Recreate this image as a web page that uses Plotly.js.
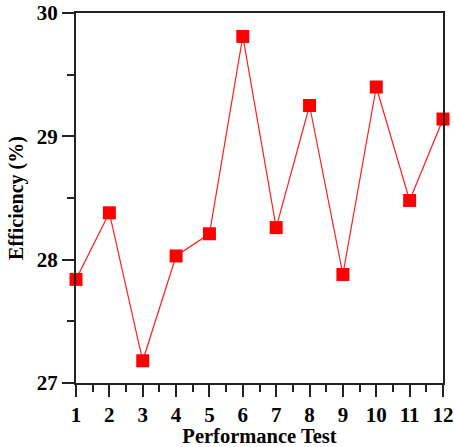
<!DOCTYPE html>
<html>
<head>
<meta charset="utf-8">
<script src="https://cdn.plot.ly/plotly-3.0.1.min.js"></script>
<style>html,body{margin:0;padding:0;background:#fff;}#chart{width:454px;height:447px;}</style>
</head>
<body>
<div id="chart"></div>
<script>
const tests = [1, 2, 3, 4, 5, 6, 7, 8, 9, 10, 11, 12];
const efficiency = [27.84, 28.38, 27.18, 28.03, 28.21, 29.81, 28.26, 29.25, 27.88, 29.40, 28.48, 29.14];
const xTitle = 'Performance Test';
const yTitle = 'Efficiency (%)';

const font = 'Liberation Serif, Times New Roman, serif';
const axisCommon = {
  showline: true, mirror: true, linecolor: '#222', linewidth: 2,
  showgrid: false, zeroline: false,
  ticks: 'outside', ticklen: 12, tickwidth: 2, tickcolor: '#222',
  tickfont: {family: font, size: 21, color: '#000', weight: 'bold'},
  minor: {ticks: 'outside', ticklen: 7, tickwidth: 2, tickcolor: '#222', dtick: 0.5, showgrid: false}
};

Plotly.newPlot('chart', [{
  x: tests, y: efficiency, type: 'scatter', mode: 'lines+markers',
  line: {color: '#ff2020', width: 1.2},
  marker: {symbol: 'square', size: 13, color: '#ff0000'},
  cliponaxis: false
}], {
  width: 454, height: 447,
  margin: {l: 76, r: 11, t: 13, b: 64},
  paper_bgcolor: '#fff', plot_bgcolor: '#fff',
  showlegend: false,
  xaxis: Object.assign({}, axisCommon, {
    range: [1, 12], tick0: 1, dtick: 1,
    title: {text: xTitle, font: {family: font, size: 20.5, color: '#000', weight: 'bold'}, standoff: 3}
  }),
  yaxis: Object.assign({}, axisCommon, {
    range: [27, 30], tick0: 27, dtick: 1,
    title: {text: yTitle, font: {family: font, size: 20, color: '#000', weight: 'bold'}, standoff: 8}
  })
}, {staticPlot: true});
</script>
</body>
</html>
